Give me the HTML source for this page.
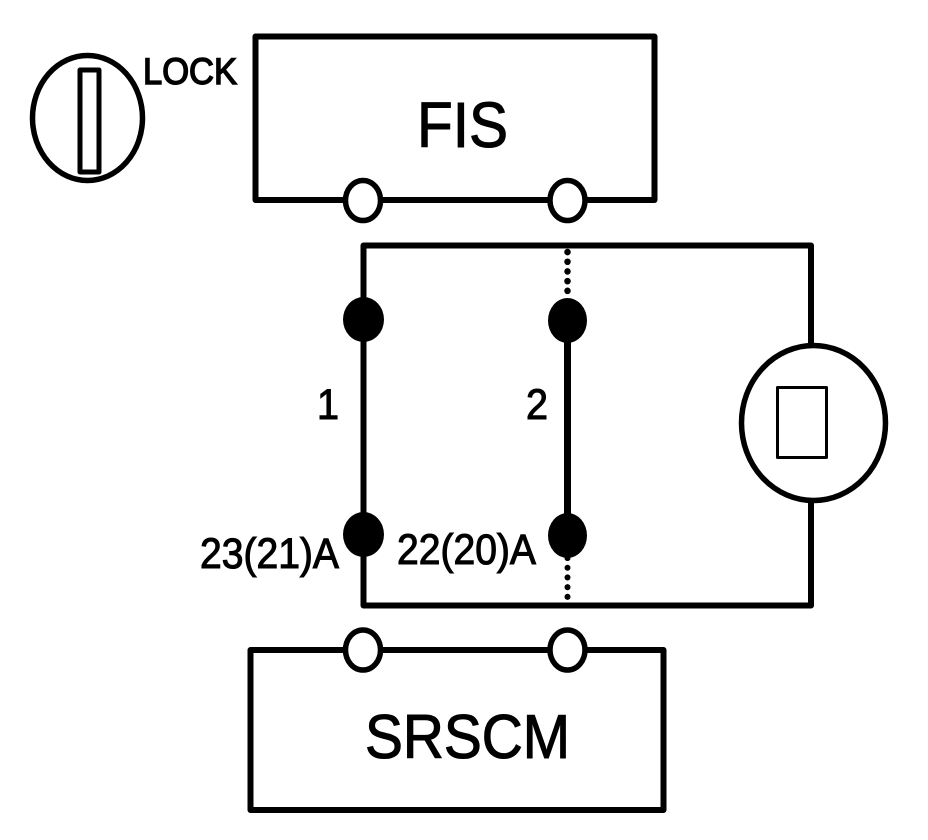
<!DOCTYPE html>
<html>
<head>
<meta charset="utf-8">
<style>
html,body{margin:0;padding:0;background:#fff;width:928px;height:840px;overflow:hidden}
svg{display:block}
text{font-family:"Liberation Sans",sans-serif;fill:#000;stroke:#000;stroke-width:1.1}
</style>
</head>
<body>
<svg width="928" height="840" viewBox="0 0 928 840" xmlns="http://www.w3.org/2000/svg">
<rect width="928" height="840" fill="#fff"/>
<g fill="none" stroke="#000" stroke-linejoin="round">
  <!-- key -->
  <ellipse cx="87.5" cy="118" rx="55" ry="62.5" stroke-width="5.5"/>
  <rect x="80" y="70" width="19" height="102" stroke-width="5"/>
  <!-- FIS box -->
  <rect x="255.5" y="36.5" width="399" height="163.5" stroke-width="6"/>
  <!-- SRSCM box -->
  <rect x="250.5" y="650" width="413" height="160" stroke-width="6"/>
  <!-- middle loop -->
  <path d="M811 345V245.5H363.5V605.5H811V500" stroke-width="6"/>
  <path d="M567.5 320V535" stroke-width="7"/>
  <!-- dotted segments -->
  <path d="M567.5 252V292" stroke-width="6.5" stroke-linecap="round" stroke-dasharray="0.1 9.6"/>
  <path d="M567.5 558V598" stroke-width="6" stroke-linecap="round" stroke-dasharray="0.1 9.6"/>
  <!-- lamp -->
  <ellipse cx="813.5" cy="423" rx="72" ry="77.5" fill="#fff" stroke-width="5.5"/>
  <rect x="777.5" y="387.5" width="49" height="70" stroke-width="3"/>
</g>
<!-- open connectors -->
<g fill="#fff" stroke="#000" stroke-width="5.5">
  <ellipse cx="363" cy="200.5" rx="17.5" ry="20"/>
  <ellipse cx="567.5" cy="200.5" rx="17.5" ry="20"/>
  <ellipse cx="363" cy="650" rx="17.5" ry="20"/>
  <ellipse cx="567.5" cy="650" rx="17.5" ry="20"/>
</g>
<!-- filled nodes -->
<g fill="#000">
  <ellipse cx="363.5" cy="319.5" rx="20.5" ry="22.5"/>
  <ellipse cx="567.5" cy="320.5" rx="19.5" ry="22.5"/>
  <ellipse cx="363.5" cy="534.5" rx="20.5" ry="22.5"/>
  <ellipse cx="567.5" cy="535.5" rx="19.5" ry="22.5"/>
</g>
<!-- labels -->
<text x="143" y="84" font-size="37" textLength="94" lengthAdjust="spacingAndGlyphs" style="stroke-width:1.5">LOCK</text>
<text x="417" y="147" font-size="64" textLength="91" lengthAdjust="spacingAndGlyphs">FIS</text>
<text x="365" y="758" font-size="62" textLength="205" lengthAdjust="spacingAndGlyphs">SRSCM</text>
<text x="317" y="419" font-size="43" textLength="22" lengthAdjust="spacingAndGlyphs">1</text>
<text x="526" y="419" font-size="43" textLength="22" lengthAdjust="spacingAndGlyphs">2</text>
<text x="200" y="568" font-size="43" textLength="139" lengthAdjust="spacingAndGlyphs">23(21)A</text>
<text x="397" y="564" font-size="43" textLength="139" lengthAdjust="spacingAndGlyphs">22(20)A</text>
</svg>
</body>
</html>
